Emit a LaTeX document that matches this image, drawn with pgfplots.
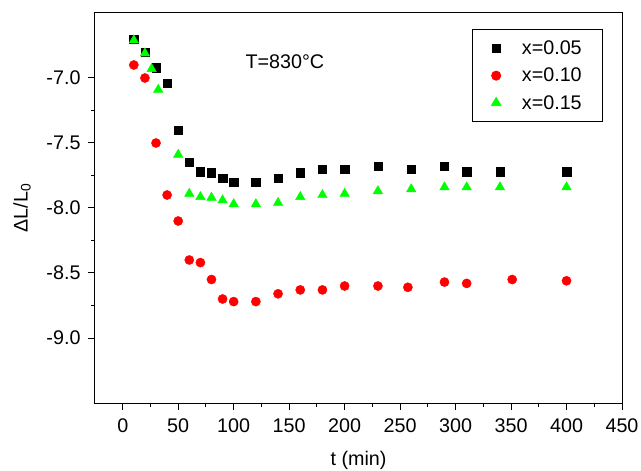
\documentclass[border=0pt]{standalone}
\usepackage{pgfplots}
\pgfplotsset{compat=1.18}
\usepackage{fontspec}
\setmainfont{Liberation Sans}
\definecolor{mygreen}{RGB}{0,255,0}
\definecolor{myred}{RGB}{255,0,0}
\begin{document}
\begin{tikzpicture}[x=1bp,y=1bp]
\useasboundingbox (-95bp,-68bp) rectangle (546bp,403bp);
\begin{axis}[
  at={(0,0)}, anchor=south west,
  scale only axis, width=527bp, height=390bp,
  xmin=-25, xmax=450, ymin=-9.5, ymax=-6.5,
  xtick={0,50,...,450},
  ytick={-9,-8.5,-8,-7.5,-7},
  yticklabels={-9.0,-8.5,-8.0,-7.5,-7.0},
  minor x tick num=1, minor y tick num=1,
  tick align=outside, tick pos=left,
  major tick length=7bp, minor tick length=3.5bp,
  axis line style={line width=1bp},
  every tick/.style={line width=1bp, black},
  font=\fontsize{19.8}{23}\selectfont,
  /pgf/number format/assume math mode=true,
  xticklabel style={yshift=-5bp},
  yticklabel style={xshift=-4bp},
  xlabel={t (min)}, ylabel={ΔL/L\textsubscript{0}},
  xlabel style={at={(axis description cs:0.5,0)}, anchor=center, yshift=-57bp},
  ylabel style={at={(axis description cs:0,0.5)}, anchor=center, yshift=73bp},
  legend style={at={(axis description cs:0.7154,0.958)}, anchor=north west,
    draw=black, line width=0.8bp, inner xsep=19bp, inner ysep=9bp,
    row sep=8bp, column sep=19bp, font=\fontsize{19.8}{23}\selectfont},
  legend cell align=left,
]
\addplot[only marks, mark=square*, mark size=4.2bp, mark options={fill=black, draw=black}] coordinates {
(10,-6.70) (20,-6.80) (30,-6.92) (40,-7.04) (50,-7.40) (60,-7.65) (70,-7.72) (80,-7.73)
(90,-7.77) (100,-7.80) (120,-7.80) (140,-7.77) (160,-7.73) (180,-7.70) (200,-7.70)
(230,-7.68) (260,-7.70) (290,-7.68) (310,-7.72) (340,-7.72) (400,-7.72)
};
\addlegendentry{x=0.05}
\addplot[only marks, mark=*, mark size=4.6bp, mark options={fill=myred, draw=myred}] coordinates {
(10,-6.90) (20,-7.00) (30,-7.50) (40,-7.90) (50,-8.10) (60,-8.40) (70,-8.42) (80,-8.55)
(90,-8.70) (100,-8.72) (120,-8.72) (140,-8.66) (160,-8.63) (180,-8.63) (200,-8.60)
(230,-8.60) (257,-8.61) (290,-8.57) (310,-8.58) (351,-8.55) (400,-8.56)
};
\addlegendentry{x=0.10}
\addplot[only marks, mark=triangle*, mark size=5.5bp, mark options={fill=mygreen, draw=mygreen}] coordinates {
(10,-6.71) (20,-6.81) (26,-6.93) (32,-7.09) (50,-7.59) (60,-7.89) (70,-7.915) (80,-7.92)
(90,-7.94) (100,-7.97) (120,-7.97) (140,-7.96) (160,-7.915) (180,-7.90) (200,-7.89)
(230,-7.87) (260,-7.855) (290,-7.84) (310,-7.84) (340,-7.84) (400,-7.84)
};
\addlegendentry{x=0.15}
\node[anchor=base west, inner sep=0pt, font=\fontsize{19.8}{23}\selectfont] at (axis cs:110.5,-6.928) {T=830°C};
\end{axis}
\end{tikzpicture}
\end{document}
